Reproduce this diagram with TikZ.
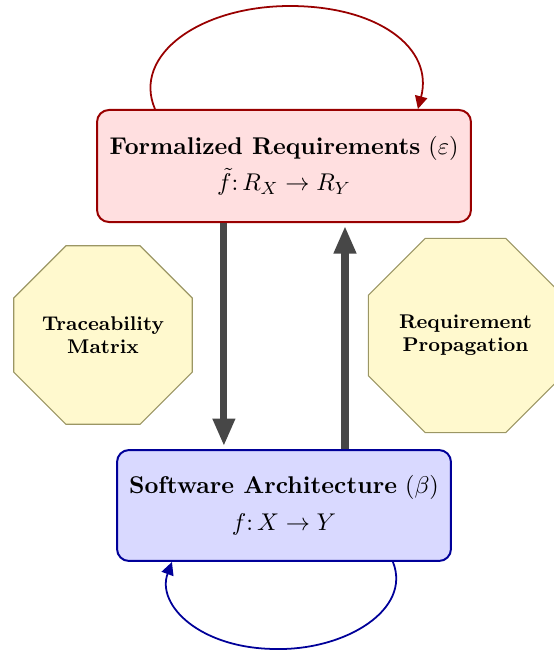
\documentclass[tikz,border=0pt]{standalone}
\usetikzlibrary{shapes.geometric,arrows.meta}
\definecolor{reqred}{RGB}{153,0,0}
\definecolor{reqfill}{RGB}{255,223,224}
\definecolor{archblue}{RGB}{0,0,153}
\definecolor{archfill}{RGB}{217,217,255}
\definecolor{octfill}{RGB}{255,249,206}
\definecolor{octdraw}{RGB}{155,150,100}
\definecolor{flowgray}{RGB}{71,71,71}
\tikzset{
  mainbox/.style={rectangle, rounded corners=5.4pt, line width=0.9pt, align=center,
    font=\fontsize{10.95}{13.6}\selectfont, inner sep=2pt},
  reqbox/.style={mainbox, draw=reqred, fill=reqfill, minimum width=169.2pt, minimum height=50.7pt},
  archbox/.style={mainbox, draw=archblue, fill=archfill, minimum width=151.1pt, minimum height=50.2pt},
  octbox/.style={regular polygon, regular polygon sides=8, draw=octdraw, fill=octfill,
    line width=0.5pt, align=center, inner sep=1pt,
    font=\fontsize{9}{10.5}\selectfont\bfseries},
  flowarrow/.style={draw=flowgray, line width=3.2pt,
    -{Triangle[length=12.5pt,width=9.5pt]}, shorten >=1.3pt},
  looparrow/.style={line width=0.8pt, -{Triangle[length=5.8pt,width=5.6pt]}}
}
\begin{document}
\begin{tikzpicture}[x=0.4525pt, y=-0.4525pt]
\useasboundingbox (0,0) rectangle (553,652);
\node[reqbox] (top) at (284,166)
  {{\bfseries Formalized Requirements} $(\varepsilon)$\\[2.5pt] $\tilde{f}\colon R_X \to R_Y$};
\node[archbox] (bot) at (284,505.5)
  {{\bfseries Software Architecture} $(\beta)$\\[3pt] $f\colon X \to Y$};
\node[octbox, minimum size=84.8pt] (trace) at (103,335) {Traceability\\Matrix};
\node[octbox, minimum size=93.4pt] (prop) at (465.5,335.5) {Requirement\\Propagation};
\draw[flowarrow] ([xshift=-27.2pt]top.south) -- ([xshift=-27.2pt]bot.north);
\draw[flowarrow] ([xshift=27.6pt]bot.north) -- ([xshift=27.6pt]top.south);
\coordinate (toppeak) at (290,6);
\coordinate (botlow) at (277,649);
\draw[looparrow, reqred] ([xshift=-58.4pt]top.north)
  .. controls (132,55) and (200,6) .. (toppeak)
  .. controls (378,6) and (434,48) .. ([xshift=60.6pt]top.north);
\draw[looparrow, archblue] ([xshift=49.3pt]bot.south)
  .. controls (412,610) and (345,650) .. (botlow)
  .. controls (200,649) and (156,605) .. ([xshift=-50.7pt]bot.south);
\end{tikzpicture}
\end{document}
